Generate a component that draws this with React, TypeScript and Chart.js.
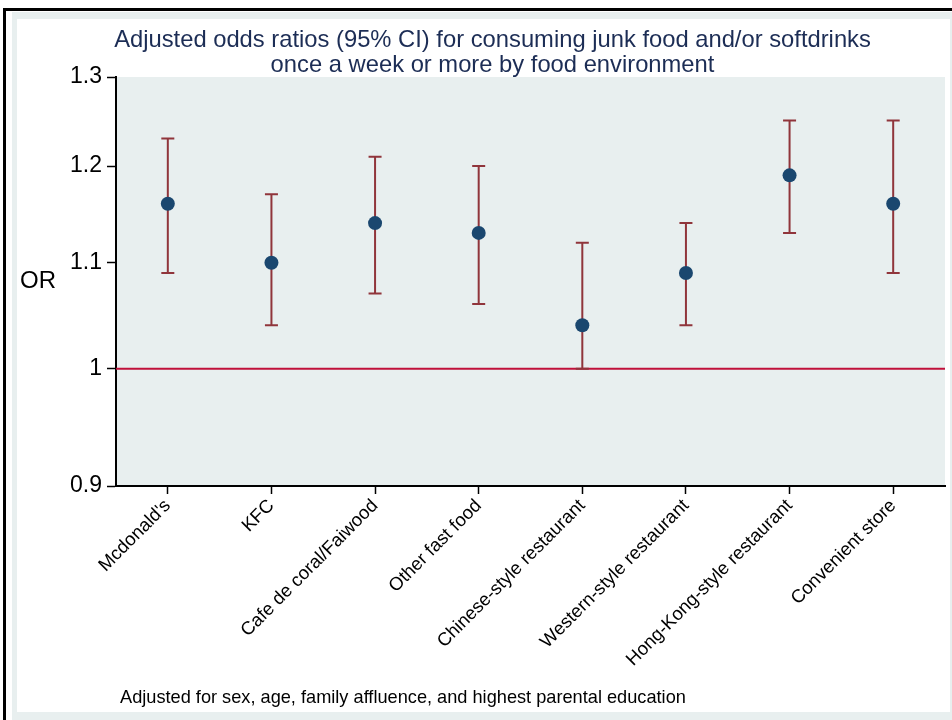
import React, { useEffect, useRef } from "react";
import { Chart, registerables } from "chart.js";

Chart.register(...registerables);

const categories = [
  "Mcdonald's",
  "KFC",
  "Cafe de coral/Faiwood",
  "Other fast food",
  "Chinese-style restaurant",
  "Western-style restaurant",
  "Hong-Kong-style restaurant",
  "Convenient store",
];
const oddsRatios = [1.16, 1.1, 1.14, 1.13, 1.04, 1.09, 1.19, 1.16];
const lowerCI = [1.09, 1.04, 1.07, 1.06, 1.0, 1.04, 1.13, 1.09];
const upperCI = [1.23, 1.17, 1.21, 1.2, 1.12, 1.14, 1.25, 1.25];
const yTicks = [0.9, 1, 1.1, 1.2, 1.3];
const referenceValue = 1;
const titleLines = [
  "Adjusted odds ratios (95% CI) for consuming junk food and/or softdrinks",
  "once a week or more by food environment",
];
const yAxisLabel = "OR";
const footnote = "Adjusted for sex, age, family affluence, and highest parental education";

const FONT = "'Liberation Sans', Arial, Helvetica, sans-serif";
const PLOT_BG = "#e8efef";
const FRAME_BG = "#e8efef";
const POINT_COLOR = "#1a476f";
const CI_COLOR = "#90353b";
const REF_COLOR = "#c0103a";
const TITLE_COLOR = "#1c2d55";

const backgroundPlugin = {
  id: "stataBackground",
  beforeDraw(chart: any) {
    const { ctx, width, height, chartArea } = chart;
    ctx.save();
    ctx.fillStyle = "#ffffff";
    ctx.fillRect(0, 0, width, height);
    ctx.fillStyle = FRAME_BG;
    ctx.fillRect(12, 12, width - 12, height - 12);
    ctx.fillStyle = "#ffffff";
    ctx.fillRect(17, 19, width - 19, height - 27);
    ctx.fillStyle = "#000000";
    ctx.fillRect(3, 8, 3, height - 8);
    ctx.fillRect(3, 8, width - 3, 3);
    ctx.fillStyle = PLOT_BG;
    ctx.fillRect(chartArea.left, chartArea.top, chartArea.right - chartArea.left, chartArea.bottom - chartArea.top);
    ctx.restore();
  },
};

const errorBarPlugin = {
  id: "errorBars",
  beforeDatasetsDraw(chart: any) {
    const { ctx, chartArea } = chart;
    const xScale = chart.scales.x;
    const yScale = chart.scales.y;
    ctx.save();
    const yRef = yScale.getPixelForValue(referenceValue);
    ctx.strokeStyle = REF_COLOR;
    ctx.lineWidth = 2;
    ctx.beginPath();
    ctx.moveTo(chartArea.left, yRef);
    ctx.lineTo(chartArea.right, yRef);
    ctx.stroke();
    ctx.strokeStyle = CI_COLOR;
    ctx.lineWidth = 2;
    const cap = 6.5;
    categories.forEach((_, i) => {
      const x = xScale.getPixelForValue(i);
      const yLo = yScale.getPixelForValue(lowerCI[i]);
      const yHi = yScale.getPixelForValue(upperCI[i]);
      ctx.beginPath();
      ctx.moveTo(x, yLo);
      ctx.lineTo(x, yHi);
      ctx.moveTo(x - cap, yLo);
      ctx.lineTo(x + cap, yLo);
      ctx.moveTo(x - cap, yHi);
      ctx.lineTo(x + cap, yHi);
      ctx.stroke();
    });
    ctx.restore();
  },
};

const textPlugin = {
  id: "extraText",
  afterDraw(chart: any) {
    const { ctx } = chart;
    ctx.save();
    ctx.fillStyle = TITLE_COLOR;
    ctx.textAlign = "center";
    ctx.textBaseline = "alphabetic";
    ctx.font = `24px ${FONT}`;
    const titleBaselines = [47, 72];
    titleLines.forEach((line, i) => {
      ctx.save();
      ctx.translate(492.5, titleBaselines[i]);
      ctx.scale(0.99, 1);
      ctx.fillText(line, 0, 0);
      ctx.restore();
    });
    ctx.fillStyle = "#000000";
    ctx.textAlign = "left";
    ctx.font = `24px ${FONT}`;
    ctx.fillText(yAxisLabel, 20, 288);
    ctx.font = `18.2px ${FONT}`;
    ctx.fillText(footnote, 120, 703);
    ctx.restore();
  },
};

export default function App() {
  const canvasRef = useRef<HTMLCanvasElement | null>(null);

  useEffect(() => {
    const canvas = canvasRef.current;
    if (!canvas) return;
    const chart = new Chart(canvas, {
      type: "line",
      data: {
        labels: categories,
        datasets: [
          {
            label: "OR",
            data: oddsRatios,
            showLine: false,
            pointRadius: 7,
            pointHoverRadius: 7,
            pointBackgroundColor: POINT_COLOR,
            pointBorderColor: POINT_COLOR,
            pointBorderWidth: 0,
            borderColor: POINT_COLOR,
          },
        ],
      },
      options: {
        responsive: false,
        animation: false,
        events: [],
        layout: { padding: { left: 36, right: 2, top: 77, bottom: 0 } },
        plugins: {
          legend: { display: false },
          tooltip: { enabled: false },
          title: { display: false },
        },
        scales: {
          x: {
            type: "category",
            offset: true,
            afterFit(scale: any) {
              scale.height = 234;
            },
            grid: {
              display: true,
              drawOnChartArea: false,
              drawTicks: true,
              tickLength: 8,
              tickColor: "#000000",
              tickWidth: 1.5,
            },
            border: { display: true, color: "#000000", width: 2 },
            ticks: {
              autoSkip: false,
              maxRotation: 45,
              minRotation: 45,
              padding: 1,
              color: "#000000",
              font: { family: FONT, size: 18.5 },
            },
          },
          y: {
            type: "logarithmic",
            min: 0.9,
            max: 1.3,
            afterFit(scale: any) {
              scale.width = 80;
            },
            afterBuildTicks(scale: any) {
              scale.ticks = yTicks.map((v) => ({ value: v }));
            },
            grid: {
              display: true,
              drawOnChartArea: false,
              drawTicks: true,
              tickLength: 9,
              tickColor: "#000000",
              tickWidth: 1.5,
            },
            border: { display: true, color: "#000000", width: 2 },
            ticks: {
              padding: 5,
              color: "#000000",
              font: { family: FONT, size: 23 },
              callback: (value: any) => String(Number(value)),
            },
          },
        },
      },
      plugins: [backgroundPlugin, errorBarPlugin, textPlugin],
    });
    return () => chart.destroy();
  }, []);

  return (
    <div style={{ position: "absolute", left: 0, top: 0, width: 952, height: 720 }}>
      <canvas ref={canvasRef} width={952} height={720} style={{ width: 952, height: 720, display: "block" }} />
    </div>
  );
}
